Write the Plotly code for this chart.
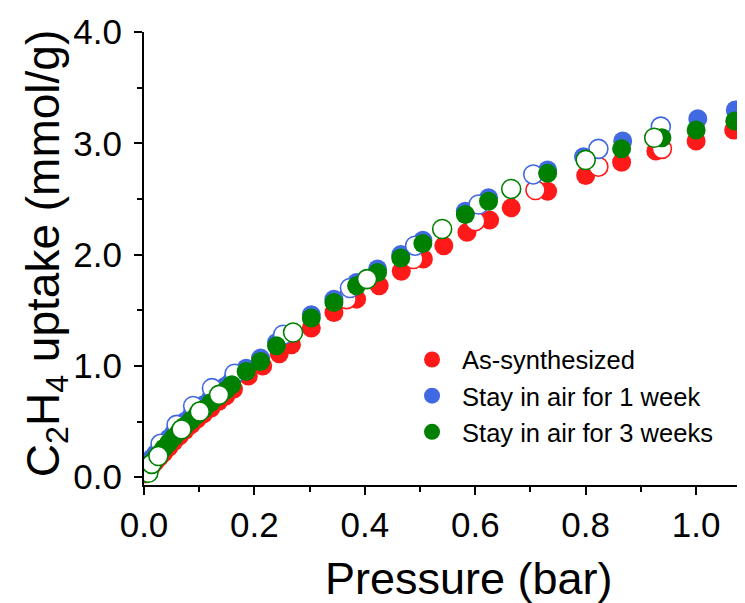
import plotly.graph_objects as go

# ---------------- data ----------------
# As-synthesized (red)
as_ads_p = [0.003, 0.008, 0.014, 0.021, 0.028, 0.036, 0.045, 0.054, 0.064, 0.074, 0.085, 0.096,
            0.108, 0.121, 0.135, 0.148, 0.162, 0.189, 0.215, 0.245, 0.267, 0.303, 0.344, 0.385,
            0.426, 0.466, 0.506, 0.543, 0.585, 0.626, 0.665, 0.731, 0.800, 0.865, 0.927, 1.000, 1.068]
as_ads_u = [0.03, 0.06, 0.10, 0.14, 0.18, 0.22, 0.27, 0.32, 0.37, 0.42, 0.47, 0.52,
            0.57, 0.62, 0.68, 0.73, 0.79, 0.91, 1.00, 1.11, 1.19, 1.34, 1.48, 1.60,
            1.72, 1.85, 1.96, 2.08, 2.20, 2.31, 2.42, 2.57, 2.71, 2.83, 2.93, 3.02, 3.12]
as_des_p = [0.938, 0.823, 0.709, 0.600, 0.488, 0.367]
as_des_u = [2.95, 2.79, 2.58, 2.30, 1.96, 1.60]

# Stay in air for 1 week (blue)
w1_ads_p = [0.003, 0.008, 0.014, 0.021, 0.028, 0.036, 0.045, 0.054, 0.064, 0.074, 0.085, 0.096,
            0.108, 0.121, 0.135, 0.148, 0.159, 0.185, 0.211, 0.240, 0.303, 0.344, 0.385,
            0.423, 0.465, 0.505, 0.582, 0.624, 0.731, 0.796, 0.867, 1.003, 1.071]
w1_ads_u = [0.09, 0.13, 0.17, 0.21, 0.25, 0.30, 0.35, 0.40, 0.45, 0.50, 0.55, 0.60,
            0.65, 0.71, 0.77, 0.82, 0.87, 0.98, 1.07, 1.21, 1.46, 1.60, 1.75,
            1.87, 2.00, 2.13, 2.39, 2.51, 2.76, 2.88, 3.02, 3.22, 3.30]
w1_des_p = [0.030, 0.059, 0.089, 0.123, 0.164, 0.252, 0.373, 0.491, 0.606, 0.705, 0.823, 0.936]
w1_des_u = [0.30, 0.47, 0.64, 0.80, 0.93, 1.28, 1.70, 2.08, 2.45, 2.72, 2.95, 3.15]

# Stay in air for 3 weeks (green)
w3_ads_p = [0.003, 0.008, 0.014, 0.021, 0.028, 0.036, 0.045, 0.054, 0.064, 0.074, 0.085, 0.096,
            0.108, 0.121, 0.135, 0.148, 0.159, 0.185, 0.211, 0.240, 0.303, 0.344, 0.385,
            0.423, 0.465, 0.505, 0.582, 0.624, 0.731, 0.800, 0.865, 0.938, 1.000, 1.070]
w3_ads_u = [0.05, 0.09, 0.13, 0.17, 0.21, 0.26, 0.31, 0.36, 0.41, 0.46, 0.51, 0.56,
            0.61, 0.67, 0.73, 0.78, 0.83, 0.95, 1.04, 1.18, 1.43, 1.57, 1.72,
            1.84, 1.97, 2.10, 2.36, 2.48, 2.73, 2.86, 2.95, 3.05, 3.12, 3.20]
w3_des_p = [0.008, 0.014, 0.026, 0.068, 0.101, 0.136, 0.270, 0.404, 0.540, 0.665, 0.800, 0.924]
w3_des_u = [0.04, 0.12, 0.19, 0.43, 0.59, 0.74, 1.30, 1.78, 2.23, 2.59, 2.85, 3.05]

series_names = ["As-synthesized", "Stay in air for 1 week", "Stay in air for 3 weeks"]
colors = ["#FF1A1A", "#4169E1", "#008000"]
x_title = "Pressure (bar)"
y_title = "C<sub>2</sub>H<sub>4</sub> uptake (mmol/g)"

FONT = "Arial, 'Liberation Sans', sans-serif"
MS = 19

fig = go.Figure()
sets = [(as_ads_p, as_ads_u, as_des_p, as_des_u),
        (w1_ads_p, w1_ads_u, w1_des_p, w1_des_u),
        (w3_ads_p, w3_ads_u, w3_des_p, w3_des_u)]
for name, col, (ap, au, dp, du) in zip(series_names, colors, sets):
    fig.add_trace(go.Scatter(x=ap, y=au, mode="markers", name=name,
                             marker=dict(size=MS, color=col, line=dict(width=0))))
    fig.add_trace(go.Scatter(x=dp, y=du, mode="markers", name=name + " (des)",
                             showlegend=False,
                             marker=dict(size=MS, color="white", line=dict(width=1.6, color=col))))

axis_common = dict(showline=True, linecolor="black", linewidth=2, ticks="outside",
                   ticklen=8, tickwidth=2, tickcolor="black", showgrid=False, zeroline=False,
                   mirror=False, automargin=False,
                   tickfont=dict(family=FONT, size=35, color="black"))

fig.update_xaxes(range=[0, 1.103], dtick=0.2, tick0=0, tickformat=".1f",
                 minor=dict(ticks="outside", ticklen=5, tickwidth=2, tickcolor="black", dtick=0.1),
                 **axis_common)
fig.update_yaxes(range=[-0.07, 4.0], dtick=1.0, tick0=0, tickformat=".1f",
                 ticklabelstandoff=5,
                 minor=dict(ticks="outside", ticklen=5, tickwidth=2, tickcolor="black", dtick=0.5),
                 **axis_common)

fig.add_annotation(text=x_title, xref="paper", yref="paper", x=0.5335, y=0,
                   xanchor="center", yanchor="middle", yshift=-93, showarrow=False,
                   font=dict(family=FONT, size=45, color="black"))
fig.add_annotation(text=y_title, xref="paper", yref="paper", x=0, y=0.5095,
                   xanchor="center", yanchor="middle", xshift=-98, textangle=-90,
                   showarrow=False, font=dict(family=FONT, size=46, color="black"))

fig.update_layout(
    width=745, height=603,
    margin=dict(l=136, r=0, t=24, b=126),
    plot_bgcolor="white", paper_bgcolor="white",
    showlegend=True,
    legend=dict(x=0.4237, y=0.328, xanchor="left", yanchor="top",
                font=dict(family=FONT, size=25.5, color="black"), itemwidth=50,
                bgcolor="rgba(0,0,0,0)", traceorder="normal"),
)

fig.write_html("out.html")
